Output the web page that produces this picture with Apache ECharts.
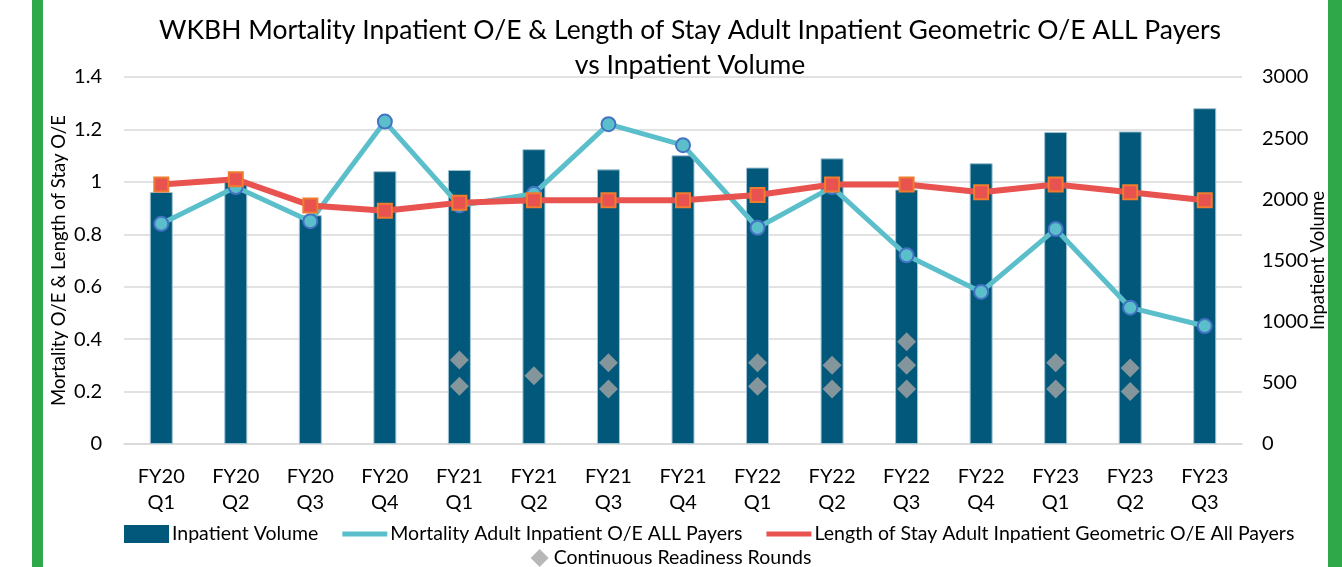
<!DOCTYPE html>
<html>
<head>
<meta charset="utf-8">
<style>
  html, body { margin: 0; padding: 0; background: #fff; }
  #wrap { position: relative; width: 1342px; height: 567px; overflow: hidden; }
  #chart { position: absolute; left: 0; top: 0; width: 1342px; height: 567px; }
  .edge { position: absolute; top: 0; height: 567px; background: #2fa84a; }
</style>
<script src="https://cdn.jsdelivr.net/npm/echarts@6/dist/echarts.min.js"></script>
</head>
<body>
<div id="wrap">
  <div id="chart"></div>
  <div class="edge" style="left:32px;width:11px"></div>
  <div class="edge" style="left:1328px;width:14px"></div>
</div>
<script>
const quarters = ["FY20\nQ1", "FY20\nQ2", "FY20\nQ3", "FY20\nQ4", "FY21\nQ1", "FY21\nQ2", "FY21\nQ3", "FY21\nQ4",
  "FY22\nQ1", "FY22\nQ2", "FY22\nQ3", "FY22\nQ4", "FY23\nQ1", "FY23\nQ2", "FY23\nQ3"]
const inpatientVolume = [2060, 2150, 1870, 2230, 2240, 2410, 2245, 2360, 2260, 2335, 2080, 2295, 2550, 2555, 2745]
const mortalityOE = [0.84, 0.98, 0.85, 1.23, 0.91, 0.955, 1.22, 1.14, 0.825, 0.98, 0.72, 0.58, 0.82, 0.52, 0.45]
const losOE = [0.99, 1.01, 0.91, 0.89, 0.92, 0.93, 0.93, 0.93, 0.95, 0.99, 0.99, 0.96, 0.99, 0.96, 0.93]
// readiness rounds: [quarter index, value]
const readinessRounds = [[4, 0.32], [4, 0.22], [5, 0.26], [6, 0.31], [6, 0.21], [8, 0.31], [8, 0.22],
  [9, 0.30], [9, 0.21], [10, 0.39], [10, 0.30], [10, 0.21], [12, 0.31], [12, 0.21], [13, 0.29], [13, 0.20]]

const font = "Lato"
const lineIcon = "path://M0,0h0.01v0.01h-0.01zM0,6.5h45v5h-45zM0,18h0.01v0.01h-0.01z"

const chart = echarts.init(document.getElementById("chart"))

const option = {
  animation: false,
  textStyle: { fontFamily: font, color: "#000" },
  title: {
    text: "WKBH Mortality Inpatient O/E & Length of Stay Adult Inpatient Geometric O/E ALL Payers\nvs Inpatient Volume",
    left: 685,
    textAlign: "center",
    top: 8,
    textStyle: { fontFamily: font, fontSize: 26.5, fontWeight: "normal", color: "#000", lineHeight: 35 },
  },
  grid: { left: 124, right: 100, top: 77, bottom: 123 },
  legend: [
    {
      left: 124,
      top: 524,
      padding: 0,
      itemWidth: 45,
      itemHeight: 18,
      itemGap: 24,
      textStyle: { fontFamily: font, fontSize: 19.5, color: "#000", padding: [0, 0, 0, -2] },
      data: [
        { name: "Inpatient Volume", icon: "rect", itemStyle: { color: "#02587a", borderWidth: 0 } },
        { name: "Mortality Adult Inpatient O/E ALL Payers", icon: lineIcon, itemStyle: { color: "#5bbfcb", borderWidth: 0 } },
        { name: "Length of Stay Adult Inpatient Geometric O/E All Payers", icon: lineIcon, itemStyle: { color: "#e8534f", borderWidth: 0 } },
      ],
    },
    {
      left: "center",
      top: 548,
      padding: 0,
      itemWidth: 18,
      itemHeight: 18,
      textStyle: { fontFamily: font, fontSize: 19.5, color: "#000" },
      data: [{ name: "Continuous Readiness Rounds", icon: "diamond" }],
    },
  ],
  xAxis: {
    type: "category",
    data: quarters,
    axisLine: { lineStyle: { color: "#d9d9d9", width: 1.5 } },
    axisTick: { show: false },
    axisLabel: { fontFamily: font, fontSize: 20, color: "#000", lineHeight: 26, margin: 20 },
  },
  yAxis: [
    {
      type: "value",
      min: 0,
      max: 1.4,
      interval: 0.2,
      name: "Mortality O/E & Length of Stay O/E",
      nameLocation: "middle",
      nameMoveOverlap: false,
      nameGap: 55,
      nameTextStyle: { fontFamily: font, fontSize: 18.5, color: "#000" },
      axisLine: { show: false },
      axisTick: { show: false },
      axisLabel: { fontFamily: font, fontSize: 20, color: "#000", margin: 22 },
      splitLine: { lineStyle: { color: "#d9d9d9", width: 1.5 } },
    },
    {
      type: "value",
      min: 0,
      max: 3000,
      interval: 500,
      name: "Inpatient Volume",
      nameLocation: "middle",
      nameMoveOverlap: false,
      nameGap: 67,
      nameTextStyle: { fontFamily: font, fontSize: 18.5, color: "#000" },
      axisLine: { show: false },
      axisTick: { show: false },
      axisLabel: { fontFamily: font, fontSize: 20, color: "#000", margin: 20, formatter: (v) => String(v) },
      splitLine: { show: false },
    },
  ],
  series: [
    {
      name: "Inpatient Volume",
      type: "bar",
      yAxisIndex: 1,
      barWidth: 23,
      data: inpatientVolume,
      itemStyle: { color: "#02587a", borderColor: "#9fc4d4", borderWidth: 1 },
      z: 1,
    },
    {
      name: "Continuous Readiness Rounds",
      type: "scatter",
      yAxisIndex: 0,
      symbol: "diamond",
      symbolSize: 19,
      data: readinessRounds,
      itemStyle: { color: "#a5a5a5" },
      z: 2,
    },
    {
      name: "Mortality Adult Inpatient O/E ALL Payers",
      type: "line",
      yAxisIndex: 0,
      data: mortalityOE,
      symbol: "circle",
      symbolSize: 14,
      showAllSymbol: true,
      lineStyle: { color: "#5bbfcb", width: 5 },
      itemStyle: { color: "#5bbfcb", borderColor: "#4472c4", borderWidth: 2 },
      z: 3,
    },
    {
      name: "Length of Stay Adult Inpatient Geometric O/E All Payers",
      type: "line",
      yAxisIndex: 0,
      data: losOE,
      symbol: "rect",
      symbolSize: 14,
      showAllSymbol: true,
      lineStyle: { color: "#e8534f", width: 6 },
      itemStyle: { color: "#e8534f", borderColor: "#f07c2e", borderWidth: 2 },
      z: 4,
    },
  ],
}

chart.setOption(option)
window.addEventListener("resize", () => chart.resize())
</script>
</body>
</html>
